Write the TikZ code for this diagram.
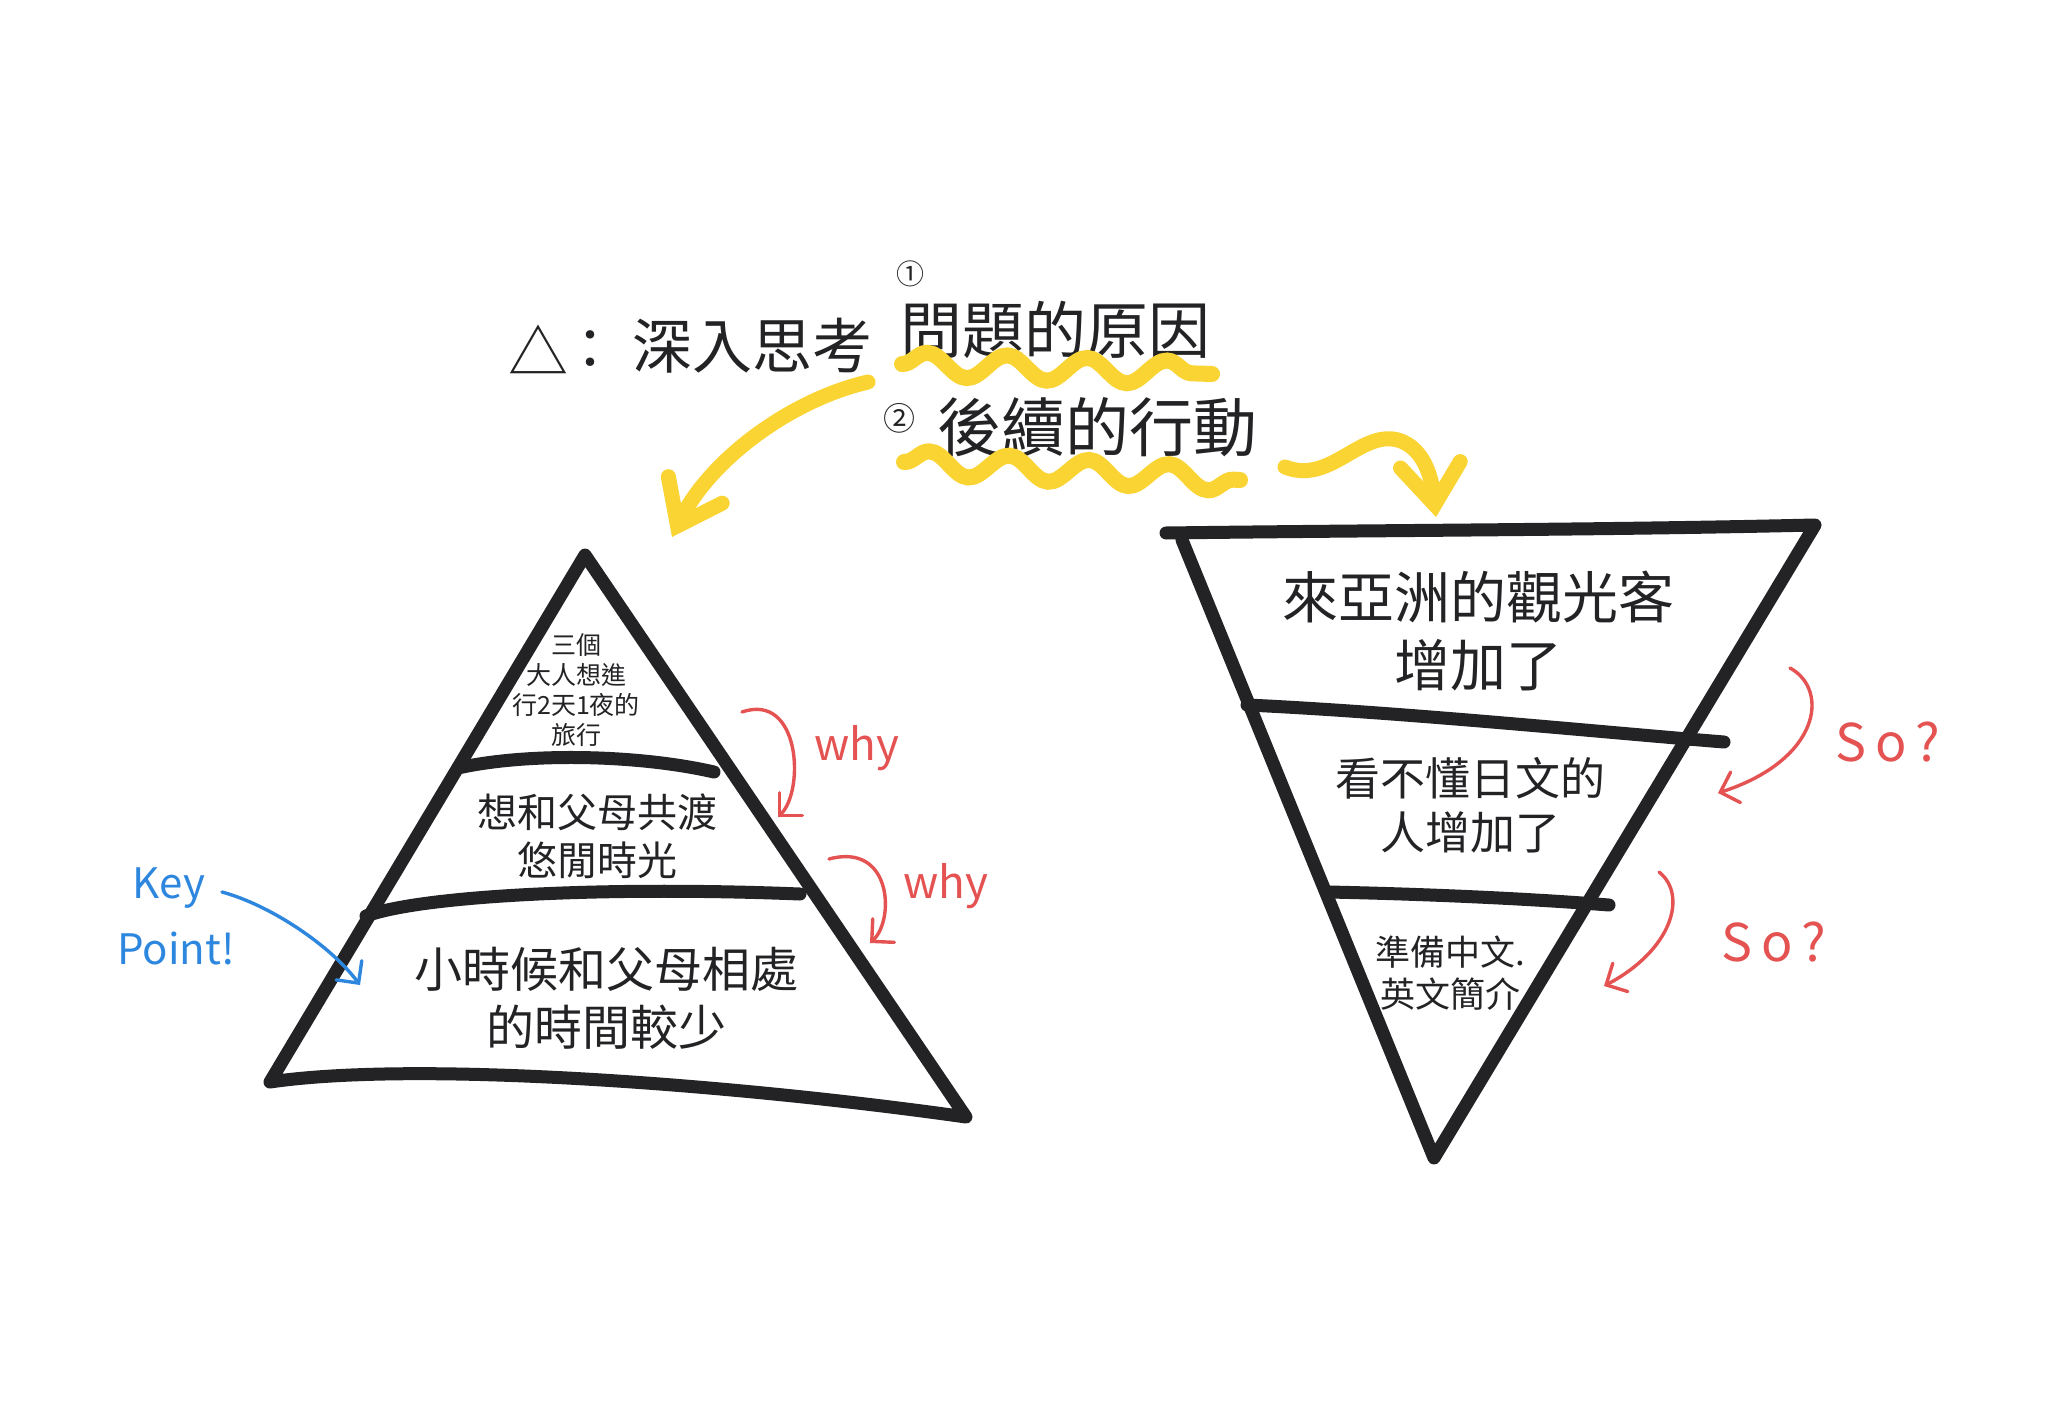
\documentclass[tikz,border=0pt]{standalone}
\usepackage{fontspec}
\setmainfont{Noto Sans CJK TC}
\usetikzlibrary{arrows.meta,decorations.pathmorphing}
\definecolor{ink}{RGB}{35,35,38}
\definecolor{hl}{RGB}{250,212,50}
\definecolor{pen}{RGB}{228,82,82}
\definecolor{bluepen}{RGB}{45,135,222}
\newcommand{\fs}[1]{\fontsize{#1pt}{1.2\dimexpr#1pt\relax}\selectfont}
\begin{document}
\begin{tikzpicture}[x=0.5pt,y=-0.5pt,
  frame/.style={ink,line width=6.5pt,line join=round,line cap=round},
  hlarrow/.style={hl,line width=7.5pt,line cap=round,line join=round,-{Straight Barb[length=20pt,width=30pt,line cap=round]}},
  wavy/.style={hl,line width=8pt,line cap=round,decorate,decoration={snake,segment length=40pt,amplitude=6pt}},
  redarrow/.style={pen,line width=1.7pt,line cap=round,-{Straight Barb[length=8pt,width=16pt,line cap=round]}},
  bluearrow/.style={bluepen,line width=1.7pt,line cap=round,-{Straight Barb[length=8pt,width=16pt,line cap=round]}},
  txt/.style={ink,inner sep=0pt,align=center},
  redtxt/.style={pen,inner sep=0pt,font=\fs{22}},
  bluetxt/.style={bluepen,inner sep=0pt,font=\fs{21}}
]
\useasboundingbox[fill=white] (0,0) rectangle (2048,1423);

% ---------- title ----------
\node[txt,font=\fs{30}] (tri) at (538,350) {△};
\node[txt,font=\fs{28}] (colon) at (590,350) {：};
\node[txt,font=\fs{30}] (think) at (752,346) {深入思考};
\node[txt,font=\fs{31}] (cause) at (1055,330) {問題的原因};
\node[txt,font=\fs{14}] (one) at (910,274) {①};
\node[txt,font=\fs{16}] (two) at (899,418) {②};
\node[txt,font=\fs{32}] (next) at (1097,427) {後續的行動};

\coordinate (u1a) at (902,364);
\coordinate (u1b) at (1212,374);
\coordinate (u2a) at (904,462);
\coordinate (u2b) at (1240,480);
\draw[wavy] (u1a) -- (u1b);
\draw[wavy] (u2a) -- (u2b);

% ---------- left pyramid ----------
\coordinate (pA) at (585,555);
\coordinate (pL) at (270,1082);
\coordinate (pR) at (966,1117);
\draw[frame] (pL) -- (pA) -- (pR) .. controls (740,1085) and (420,1060) .. (pL);
\coordinate (d1a) at (458,768);
\coordinate (d1b) at (714,772);
\coordinate (d2a) at (366,916);
\coordinate (d2b) at (800,894);
\draw[frame] (d1a) .. controls (530,752) and (640,755) .. (d1b);
\draw[frame] (d2a) .. controls (420,896) and (600,886) .. (d2b);

\node[txt,font=\fs{12.5}] (p1) at (576,690) {\baselineskip=33pt 三個\\大人想進\\行2天1夜的\\旅行};
\node[txt,font=\fs{20}] (p2) at (597,836) {\baselineskip=44pt 想和父母共渡\\悠閒時光};
\node[txt,font=\fs{24}] (p3) at (606,998) {\baselineskip=62pt 小時候和父母相處\\的時間較少};

% ---------- inverted triangle ----------
\coordinate (vTL) at (1166,533);
\coordinate (vL) at (1182,540);
\coordinate (vTR) at (1815,525);
\coordinate (vB) at (1434,1158);
\draw[frame] (vTL) .. controls (1400,530) and (1600,530) .. (vTR) -- (vB) -- (vL);
\coordinate (e1a) at (1247,705);
\coordinate (e1b) at (1724,742);
\coordinate (e2a) at (1329,892);
\coordinate (e2b) at (1609,905);
\draw[frame] (e1a) .. controls (1400,712) and (1600,732) .. (e1b);
\draw[frame] (e2a) .. controls (1420,894) and (1520,898) .. (e2b);

\node[txt,font=\fs{28}] (q1) at (1478,631) {\baselineskip=68pt 來亞洲的觀光客\\增加了};
\node[txt,font=\fs{22.5}] (q2) at (1470,805) {\baselineskip=66pt 看不懂日文的\\人增加了};
\node[txt,font=\fs{17.5}] (q3) at (1450,973) {\baselineskip=44pt 準備中文.\\英文簡介};

% ---------- yellow arrows ----------
\coordinate (ya0) at (868,382);
\coordinate (ya1) at (672,537);
\draw[hlarrow] (ya0) .. controls (790,400) and (710,460) .. (ya1);
\coordinate (yb0) at (1285,467);
\coordinate (yb1) at (1436,517);
\draw[hlarrow] (yb0) .. controls (1330,485) and (1360,430) .. (1398,440) .. controls (1425,448) and (1432,480) .. (yb1);

% ---------- red annotations ----------
\coordinate (r1a) at (742,712);
\coordinate (r1b) at (778,817);
\draw[redarrow] (r1a) .. controls (800,692) and (805,790) .. (r1b);
\node[redtxt] (why1) at (857,748) {why};
\coordinate (r2a) at (829,859);
\coordinate (r2b) at (870,943);
\draw[redarrow] (r2a) .. controls (892,842) and (895,920) .. (r2b);
\node[redtxt] (why2) at (946,886) {why};
\coordinate (r3a) at (1790,668);
\coordinate (r3b) at (1718,793);
\draw[redarrow] (r3a) .. controls (1830,690) and (1820,760) .. (r3b);
\node[redtxt,font=\fs{26}] (so1) at (1888,742) {S\,o\,?};
\coordinate (r4a) at (1659,872);
\coordinate (r4b) at (1604,986);
\draw[redarrow] (r4a) .. controls (1688,895) and (1672,950) .. (r4b);
\node[redtxt,font=\fs{26}] (so2) at (1774,942) {S\,o\,?};

% ---------- blue annotation ----------
\node[bluetxt] (key) at (169,888) {Key};
\node[bluetxt] (point) at (176,948) {Point!};
\coordinate (k0) at (222,892);
\coordinate (k1) at (360,985);
\draw[bluearrow] (k0) .. controls (270,905) and (330,945) .. (k1);
\end{tikzpicture}
\end{document}
